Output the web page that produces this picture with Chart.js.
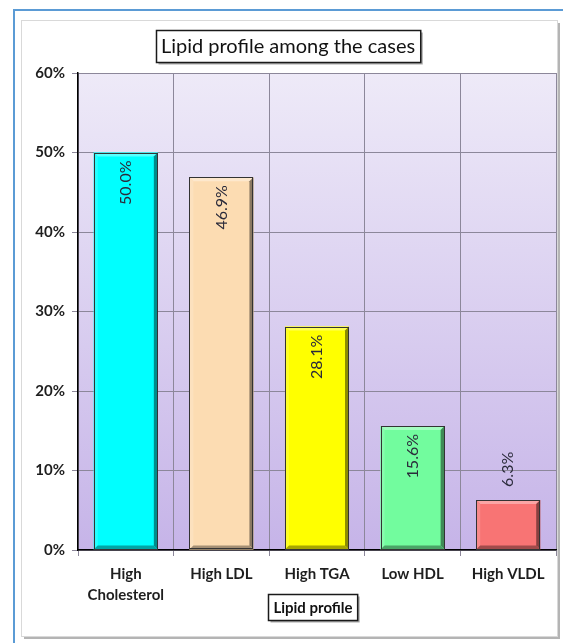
<!DOCTYPE html>
<html>
<head>
<meta charset="utf-8">
<script src="https://cdn.jsdelivr.net/npm/chart.js@4.4.1/dist/chart.umd.min.js"></script>
<style>
  html, body { margin: 0; padding: 0; background: #ffffff; }
  #wrap { width: 565px; height: 643px; position: relative; }
</style>
</head>
<body>
<div id="wrap"><canvas id="c" width="565" height="643"></canvas></div>
<script>
// Lipid profile data (percent of cases)
const categories = [['High', 'Cholesterol'], 'High LDL', 'High TGA', 'Low HDL', 'High VLDL'];
const percentValues = [50.0, 46.9, 28.1, 15.6, 6.3];
const valueLabels = ['50.0%', '46.9%', '28.1%', '15.6%', '6.3%'];
const yTickValues = [0, 10, 20, 30, 40, 50, 60];

const barColors = ['#00ffff', '#fcdcb2', '#ffff00', '#72fc9e', '#f87474'];
const FONT = 'Lato, "Open Sans", sans-serif';

function mix(hex, target, amt) {
  const n = parseInt(hex.slice(1), 16);
  const r = (n >> 16) & 255, g = (n >> 8) & 255, b = n & 255;
  const t = target === 'white' ? 255 : 0;
  const f = v => Math.round(v + (t - v) * amt);
  return `rgb(${f(r)},${f(g)},${f(b)})`;
}

// Page frame, inner panel and plot background
const framePlugin = {
  id: 'frame',
  beforeDraw(chart) {
    const ctx = chart.ctx;
    const a = chart.chartArea;
    ctx.save();
    ctx.fillStyle = '#ffffff';
    ctx.fillRect(0, 0, chart.width, chart.height);
    // blue outer frame
    ctx.strokeStyle = '#5b9bd5';
    ctx.lineWidth = 2;
    ctx.beginPath();
    ctx.moveTo(14, 643);
    ctx.lineTo(14, 10);
    ctx.lineTo(563, 10);
    ctx.stroke();
    // inner panel with soft shadow
    ctx.fillStyle = '#b4b4b4';
    ctx.fillRect(24, 23, 536, 616);
    ctx.fillStyle = '#ffffff';
    ctx.fillRect(22, 21, 535, 615);
    ctx.strokeStyle = '#d9d9d9';
    ctx.lineWidth = 1;
    ctx.strokeRect(21.5, 20.5, 536, 616);
    // plot background gradient
    const g = ctx.createLinearGradient(0, a.top, 0, a.bottom);
    g.addColorStop(0, '#eeeaf8');
    g.addColorStop(1, '#c6b4e8');
    ctx.fillStyle = g;
    ctx.fillRect(a.left, a.top, a.right - a.left, a.bottom - a.top);
    ctx.restore();
  }
};

function boxedText(ctx, text, cx, cy, font, padX, h) {
  ctx.font = font;
  const w = ctx.measureText(text).width + padX * 2;
  const x = Math.round(cx - w / 2) + 0.5, y = Math.round(cy - h / 2) + 0.5;
  ctx.fillStyle = 'rgba(0,0,0,0.35)';
  ctx.fillRect(x + 2, y + 2, w, h);
  ctx.fillStyle = '#ffffff';
  ctx.fillRect(x, y, w, h);
  ctx.strokeStyle = '#1a1a1a';
  ctx.lineWidth = 1.5;
  ctx.strokeRect(x, y, w, h);
  ctx.fillStyle = '#111111';
  ctx.textAlign = 'center';
  ctx.textBaseline = 'middle';
  ctx.fillText(text, cx, cy + 1);
}

// Bevelled bars, value labels and boxed titles
const decorPlugin = {
  id: 'decor',
  afterDatasetsDraw(chart) {
    const ctx = chart.ctx;
    const meta = chart.getDatasetMeta(0);
    ctx.save();
    meta.data.forEach((bar, i) => {
      const { x, y, base, width } = bar.getProps(['x', 'y', 'base', 'width'], true);
      const l = x - width / 2, r = x + width / 2, t = y, b = base;
      const d = 4;
      const c = barColors[i];
      // top bevel
      ctx.fillStyle = mix(c, 'white', 0.35);
      ctx.beginPath(); ctx.moveTo(l, t); ctx.lineTo(r, t); ctx.lineTo(r - d, t + d); ctx.lineTo(l + d, t + d); ctx.closePath(); ctx.fill();
      // left bevel
      ctx.fillStyle = mix(c, 'white', 0.15);
      ctx.beginPath(); ctx.moveTo(l, t); ctx.lineTo(l + d, t + d); ctx.lineTo(l + d, b - d); ctx.lineTo(l, b); ctx.closePath(); ctx.fill();
      // right bevel
      ctx.fillStyle = mix(c, 'black', 0.45);
      ctx.beginPath(); ctx.moveTo(r, t); ctx.lineTo(r, b); ctx.lineTo(r - d, b - d); ctx.lineTo(r - d, t + d); ctx.closePath(); ctx.fill();
      // bottom bevel
      ctx.fillStyle = mix(c, 'black', 0.35);
      ctx.beginPath(); ctx.moveTo(l, b); ctx.lineTo(r, b); ctx.lineTo(r - d, b - d); ctx.lineTo(l + d, b - d); ctx.closePath(); ctx.fill();
      // outline
      ctx.strokeStyle = '#333333';
      ctx.lineWidth = 1;
      ctx.strokeRect(Math.round(l) + 0.5, Math.round(t) + 0.5, Math.round(width) - 1, Math.round(b - t) - 1);

      // rotated value label: inside the top of tall bars, above short ones
      ctx.save();
      ctx.font = '16px ' + FONT;
      ctx.fillStyle = '#2b2b3b';
      ctx.textBaseline = 'middle';
      const tw = ctx.measureText(valueLabels[i]).width;
      if (b - t > tw + 40) {
        ctx.translate(x, t + 8);
        ctx.rotate(-Math.PI / 2);
        ctx.textAlign = 'right';
      } else {
        ctx.translate(x, t - 13);
        ctx.rotate(-Math.PI / 2);
        ctx.textAlign = 'left';
      }
      ctx.fillText(valueLabels[i], 0, 0);
      ctx.restore();
    });

    // chart title and x-axis title boxes
    boxedText(ctx, 'Lipid profile among the cases', 288, 46, '20px ' + FONT, 5, 32);
    boxedText(ctx, 'Lipid profile', 313, 607, 'bold 15px ' + FONT, 5, 26);
    ctx.restore();
  }
};

new Chart(document.getElementById('c'), {
  type: 'bar',
  data: {
    labels: categories,
    datasets: [{
      data: percentValues,
      backgroundColor: barColors,
      borderWidth: 0,
      barPercentage: 0.67,
      categoryPercentage: 1.0
    }]
  },
  options: {
    responsive: false,
    animation: false,
    events: [],
    layout: { padding: { left: 22, right: 9, top: 73, bottom: 0 } },
    plugins: {
      legend: { display: false },
      title: { display: false },
      tooltip: { enabled: false }
    },
    scales: {
      x: {
        offset: true,
        grid: {
          offset: true,
          color: '#8c879a',
          lineWidth: 1,
          drawTicks: true,
          tickLength: 6,
          tickColor: '#8c879a'
        },
        border: { display: true, color: '#000000', width: 1.5 },
        ticks: {
          color: '#1e1e1e',
          font: { family: FONT, size: 15, weight: 'bold', lineHeight: 1.4 },
          padding: 8,
          maxRotation: 0,
          autoSkip: false
        },
        afterFit(scale) { scale.height = 93; }
      },
      y: {
        min: 0,
        max: 60,
        afterBuildTicks(scale) { scale.ticks = yTickValues.map(v => ({ value: v })); },
        grid: {
          color: '#8c879a',
          lineWidth: 1,
          drawTicks: true,
          tickLength: 6,
          tickColor: '#8c879a'
        },
        border: { display: true, color: '#000000', width: 1.5 },
        ticks: {
          color: '#1e1e1e',
          font: { family: FONT, size: 15, weight: 'bold' },
          padding: 7,
          callback: v => v + '%'
        },
        afterFit(scale) { scale.width = 56; }
      }
    }
  },
  plugins: [framePlugin, decorPlugin]
});
</script>
</body>
</html>
